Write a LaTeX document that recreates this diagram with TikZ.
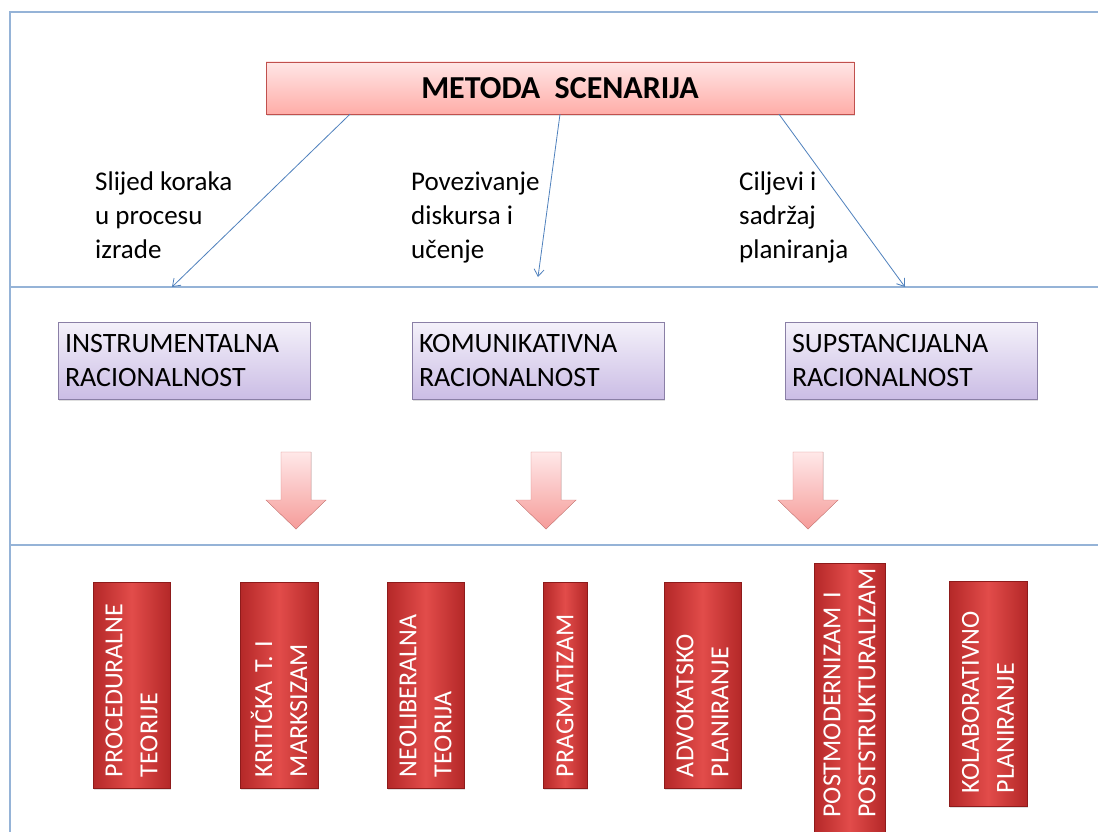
\documentclass[tikz,border=0pt]{standalone}
\usepackage{fontspec}
\setmainfont{Carlito}
\usetikzlibrary{arrows.meta,shadows}
\definecolor{frameblue}{HTML}{95B3D7}
\definecolor{linkblue}{HTML}{4F81BD}
\definecolor{titleedge}{HTML}{C0504D}
\definecolor{titletop}{HTML}{FFE6E6}
\definecolor{titlebot}{HTML}{FFADA8}
\definecolor{ratioedge}{HTML}{8A7FA6}
\definecolor{ratiotop}{HTML}{F4F1FA}
\definecolor{ratiobot}{HTML}{CBBDE5}
\definecolor{theoryedge}{HTML}{8E1B1B}
\definecolor{theorydark}{HTML}{B42828}
\definecolor{theorylight}{HTML}{E24C4A}
\definecolor{arrowedge}{HTML}{DC8582}
\definecolor{arrowtop}{HTML}{FFE8E8}
\definecolor{arrowbot}{HTML}{F59C9A}
\newcommand{\txt}{\fontsize{27}{34}\selectfont}
\newcommand{\arrTop}{452}
\newcommand{\arrNeck}{500}
\newcommand{\arrTip}{529}

\begin{document}
\begin{tikzpicture}[x=1pt,y=-1pt,
    titlebox/.style={draw=titleedge, top color=titletop, bottom color=titlebot,
        minimum width=588pt, minimum height=52pt, inner sep=0pt,
        drop shadow={shadow xshift=1pt, shadow yshift=-2pt, opacity=0.25},
        font=\fontsize{32}{38}\selectfont\bfseries},
    ratiobox/.style={draw=ratioedge, top color=ratiotop, bottom color=ratiobot,
        minimum height=77pt, text width=238pt, inner xsep=7pt, align=left,
        drop shadow={shadow xshift=1pt, shadow yshift=-2pt, opacity=0.25},
        font=\fontsize{28}{34}\selectfont},
    theorybox/.style={draw=theoryedge, rotate=90, left color=theorydark,
        right color=theorydark, middle color=theorylight, text=white,
        align=left, inner xsep=11pt, inner ysep=0pt,
        drop shadow={shadow xshift=1pt, shadow yshift=-2pt, opacity=0.25},
        font=\fontsize{26}{35}\selectfont},
    link/.style={linkblue, line width=0.8pt, -{Straight Barb[length=7pt,width=10pt]}},
    linklabel/.style={anchor=north west, align=left, inner sep=0pt, font=\txt}
]
    \useasboundingbox (0,0) rectangle (1098,832);
    \fill[white] (0,0) rectangle (1098,832);

    % Frame lines of the three bands
    \draw[frameblue, line width=2pt] (1098,12) -- (10,12) -- (10,840);
    \draw[frameblue, line width=2pt] (10,287) -- (1098,287);
    \draw[frameblue, line width=2pt] (10,545) -- (1098,545);

    % Method on top
    \node[titlebox] (method) at (560,88) {METODA\ \ SCENARIJA};

    % Free ends of the links, on the first line
    \coordinate (endInstr) at (172,287);
    \coordinate (endKomun) at (538,277);
    \coordinate (endSupst) at (905,287);

    \draw[link] ([xshift=-210pt]method.south) -- (endInstr);
    \draw[link] (method.south) -- (endKomun);
    \draw[link] ([xshift=219pt]method.south) -- (endSupst);

    \node[linklabel] (lblInstr) at (95,172) {Slijed koraka\\u procesu\\izrade};
    \node[linklabel] (lblKomun) at (411,172) {Povezivanje\\diskursa i\\učenje};
    \node[linklabel] (lblSupst) at (739,172) {Ciljevi i\\sadržaj\\planiranja};

    % Three rationalities
    \node[ratiobox] (instr) at (184,360.5) {INSTRUMENTALNA\\RACIONALNOST};
    \node[ratiobox] (komun) at (538,360.5) {KOMUNIKATIVNA\\RACIONALNOST};
    \node[ratiobox] (supst) at (911,360.5) {SUPSTANCIJALNA\\RACIONALNOST};

    % Block arrows down to the theories
    \foreach \cx in {296,546,808} {
        \filldraw[draw=arrowedge, top color=arrowtop, bottom color=arrowbot]
            (\cx-15,\arrTop) -- (\cx+15,\arrTop) -- (\cx+15,\arrNeck)
            -- (\cx+30,\arrNeck) -- (\cx,\arrTip) -- (\cx-30,\arrNeck)
            -- (\cx-15,\arrNeck) -- cycle;
    }

    % Planning theories
    \node[theorybox, minimum height=77pt, text width=184pt] (proced) at (131.5,685) {PROCEDURALNE\\TEORIJE};
    \node[theorybox, minimum height=78pt, text width=184pt] (kritic) at (279,685) {KRITIČKA T.\ I\\MARKSIZAM};
    \node[theorybox, minimum height=77pt, text width=184pt] (neolib) at (425.5,685) {NEOLIBERALNA\\TEORIJA};
    \node[theorybox, minimum height=44pt, text width=184pt] (pragma) at (565,685) {PRAGMATIZAM};
    \node[theorybox, minimum height=77pt, text width=184pt] (advok) at (702.5,685) {ADVOKATSKO\\PLANIRANJE};
    \node[theorybox, minimum height=71pt, text width=230pt, inner xsep=24.5pt] (postmod) at (849.5,702.5) {POSTMODERNIZAM I\\POSTSTRUKTURALIZAM};
    \node[theorybox, minimum height=78pt, text width=199pt, inner xsep=13pt] (kolab) at (988,693.5) {KOLABORATIVNO\\PLANIRANJE};
\end{tikzpicture}
\end{document}
